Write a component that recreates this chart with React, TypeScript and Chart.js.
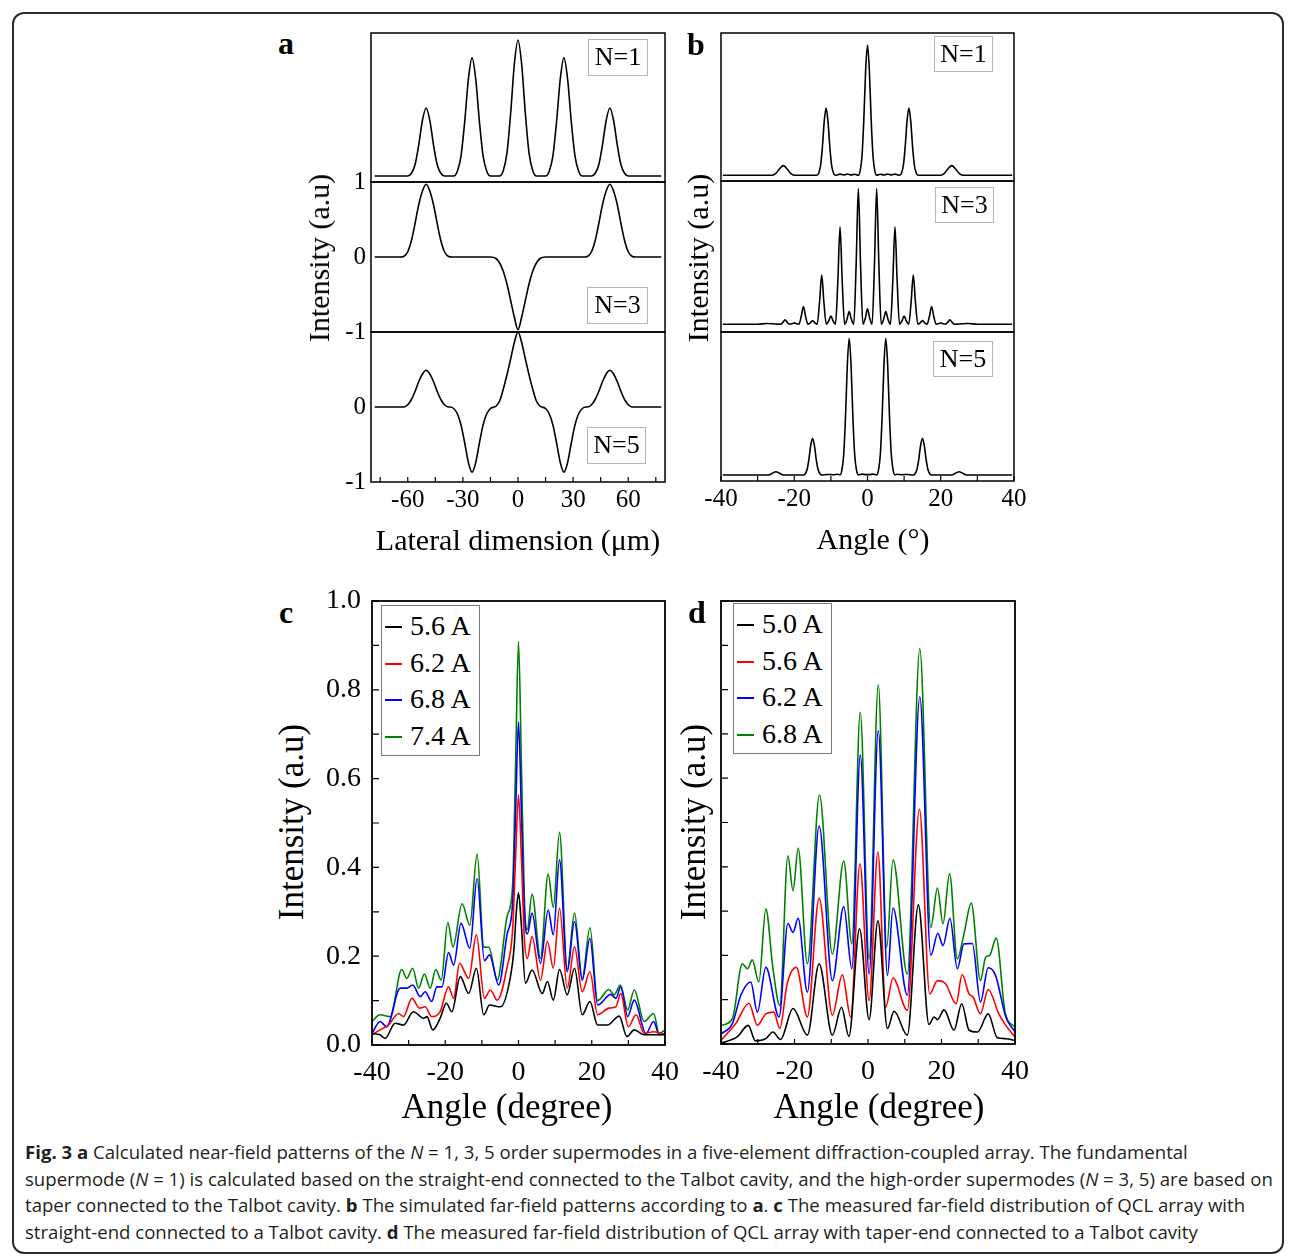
import React, { useEffect, useRef } from "react";
import { Chart, registerables } from "chart.js";

Chart.register(...registerables);

type Pt = [number, number];

// ---------------- Panel a : calculated near-field (lateral dimension, µm) ----------------
const aN1: Pt[] = [
  [-78, 0], [-60, 0], [-58, 0.02], [-56, 0.085], [-54, 0.23], [-52, 0.41], [-50, 0.5], [-48, 0.41], [-46, 0.23], [-44, 0.085], [-42, 0.02], [-40, 0],
  [-35, 0], [-33, 0.035], [-31, 0.148], [-29, 0.4], [-27, 0.712], [-25, 0.868], [-23, 0.712], [-21, 0.4], [-19, 0.148], [-17, 0.035], [-15, 0],
  [-10, 0], [-8, 0.04], [-6, 0.17], [-4, 0.46], [-2, 0.82], [0, 1], [2, 0.82], [4, 0.46], [6, 0.17], [8, 0.04], [10, 0],
  [15, 0], [17, 0.035], [19, 0.148], [21, 0.4], [23, 0.712], [25, 0.868], [27, 0.712], [29, 0.4], [31, 0.148], [33, 0.035], [35, 0],
  [40, 0], [42, 0.02], [44, 0.085], [46, 0.23], [48, 0.41], [50, 0.5], [52, 0.41], [54, 0.23], [56, 0.085], [58, 0.02], [60, 0], [78, 0],
];
const aN3: Pt[] = [
  [-78, 0], [-64, 0], [-62, 0.01], [-60, 0.07], [-58, 0.22], [-56, 0.45], [-54, 0.7], [-52, 0.88], [-50, 0.97], [-48, 0.88], [-46, 0.7], [-44, 0.45], [-42, 0.22], [-40, 0.07], [-38, 0.01], [-36, 0],
  [-15, 0], [-12, -0.02], [-10, -0.08], [-8, -0.19], [-6, -0.36], [-4, -0.58], [-2, -0.8], [0, -0.97], [2, -0.8], [4, -0.58], [6, -0.36], [8, -0.19], [10, -0.08], [12, -0.02], [15, 0],
  [36, 0], [38, 0.01], [40, 0.07], [42, 0.22], [44, 0.45], [46, 0.7], [48, 0.88], [50, 0.97], [52, 0.88], [54, 0.7], [56, 0.45], [58, 0.22], [60, 0.07], [62, 0.01], [64, 0], [78, 0],
];
const aN5: Pt[] = [
  [-78, 0], [-62, 0], [-60, 0.03], [-58, 0.1], [-56, 0.21], [-54, 0.34], [-52, 0.44], [-50, 0.49], [-48, 0.44], [-46, 0.34], [-44, 0.21], [-42, 0.1], [-40, 0.03], [-38, 0],
  [-37, 0], [-35, -0.02], [-33, -0.09], [-31, -0.24], [-29, -0.48], [-27, -0.74], [-25, -0.87], [-23, -0.74], [-21, -0.48], [-19, -0.24], [-17, -0.09], [-15, -0.02], [-13, 0],
  [-12, 0.01], [-10, 0.08], [-8, 0.24], [-6, 0.43], [-4, 0.64], [-2, 0.86], [0, 1.0], [2, 0.86], [4, 0.64], [6, 0.43], [8, 0.24], [10, 0.08], [12, 0.01],
  [13, 0], [15, -0.02], [17, -0.09], [19, -0.24], [21, -0.48], [23, -0.74], [25, -0.87], [27, -0.74], [29, -0.48], [31, -0.24], [33, -0.09], [35, -0.02], [37, 0],
  [38, 0], [40, 0.03], [42, 0.1], [44, 0.21], [46, 0.34], [48, 0.44], [50, 0.49], [52, 0.44], [54, 0.34], [56, 0.21], [58, 0.1], [60, 0.03], [62, 0], [78, 0],
];
const aXLabels = [-60, -30, 0, 30, 60];
const aYLabelsMid = [1, 0, -1];
const aYLabelsBot = [0, -1];

// ---------------- Panel b : simulated far-field (angle, °) ----------------
const bN1: Pt[] = [
  [-39.5, 0], [-26, 0], [-25, 0.015], [-24, 0.05], [-23, 0.074], [-22, 0.05], [-21, 0.015], [-20, 0],
  [-13.8, 0], [-13.3, 0.018], [-12.8, 0.077], [-12.3, 0.222], [-11.8, 0.418], [-11.3, 0.516], [-10.8, 0.418], [-10.3, 0.222], [-9.8, 0.077], [-9.3, 0.018], [-8.8, 0],
  [-7.5, 0.009], [-6.5, 0.003], [-5.5, 0.01], [-4.5, 0.002], [-3.5, 0.008], [-2.5, 0],
  [-2, 0.035], [-1.5, 0.15], [-1, 0.43], [-0.5, 0.81], [0, 1], [0.5, 0.81], [1, 0.43], [1.5, 0.15], [2, 0.035], [2.5, 0],
  [3.5, 0.008], [4.5, 0.002], [5.5, 0.01], [6.5, 0.003], [7.5, 0.009],
  [8.8, 0], [9.3, 0.018], [9.8, 0.077], [10.3, 0.222], [10.8, 0.418], [11.3, 0.516], [11.8, 0.418], [12.3, 0.222], [12.8, 0.077], [13.3, 0.018], [13.8, 0],
  [20, 0], [21, 0.015], [22, 0.05], [23, 0.074], [24, 0.05], [25, 0.015], [26, 0], [39.5, 0],
];
const bN3: Pt[] = [
  [-39.5, 0], [-30, 0], [-27.5, 0.006], [-25, 0.002], [-23.75, 0], [-23.1, 0.014], [-22.5, 0.032], [-21.9, 0.014], [-21.25, 0],
  [-20.6, 0.004], [-20, 0.01], [-19.4, 0.004], [-18.75, 0], [-18.1, 0.057], [-17.5, 0.13], [-16.9, 0.057], [-16.25, 0],
  [-15.6, 0.011], [-15, 0.027], [-14.4, 0.011], [-13.75, 0], [-13.1, 0.159], [-12.5, 0.362], [-11.9, 0.159], [-11.25, 0],
  [-10.6, 0.024], [-10, 0.061], [-9.4, 0.024], [-8.75, 0], [-8.1, 0.315], [-7.5, 0.717], [-6.9, 0.315], [-6.25, 0],
  [-5.6, 0.037], [-5, 0.093], [-4.4, 0.037], [-3.75, 0], [-3.1, 0.44], [-2.5, 1.0], [-1.9, 0.44], [-1.25, 0],
  [-0.6, 0.045], [0, 0.113], [0.6, 0.045], [1.25, 0],
  [1.9, 0.44], [2.5, 1.0], [3.1, 0.44], [3.75, 0], [4.4, 0.037], [5, 0.093], [5.6, 0.037],
  [6.25, 0], [6.9, 0.315], [7.5, 0.717], [8.1, 0.315], [8.75, 0], [9.4, 0.024], [10, 0.061], [10.6, 0.024],
  [11.25, 0], [11.9, 0.159], [12.5, 0.362], [13.1, 0.159], [13.75, 0], [14.4, 0.011], [15, 0.027], [15.6, 0.011],
  [16.25, 0], [16.9, 0.057], [17.5, 0.13], [18.1, 0.057], [18.75, 0], [19.4, 0.004], [20, 0.01], [20.6, 0.004],
  [21.25, 0], [21.9, 0.014], [22.5, 0.032], [23.1, 0.014], [23.75, 0], [25, 0.002], [27.5, 0.006], [30, 0], [39.5, 0],
];
const bN5: Pt[] = [
  [-39.5, 0], [-27, 0], [-26, 0.012], [-25, 0.024], [-24, 0.012], [-23, 0],
  [-17.5, 0], [-17, 0.009], [-16.5, 0.04], [-16, 0.115], [-15.5, 0.217], [-15, 0.268], [-14.5, 0.217], [-14, 0.115], [-13.5, 0.04], [-13, 0.009], [-12.5, 0],
  [-11, 0.004], [-9.5, 0.002], [-8, 0.005], [-7.5, 0],
  [-7, 0.035], [-6.5, 0.15], [-6, 0.43], [-5.5, 0.81], [-5, 1], [-4.5, 0.81], [-4, 0.43], [-3.5, 0.15], [-3, 0.035], [-2.5, 0],
  [-1.5, 0.006], [-0.5, 0.003], [0.5, 0.003], [1.5, 0.006],
  [2.5, 0], [3, 0.035], [3.5, 0.15], [4, 0.43], [4.5, 0.81], [5, 1], [5.5, 0.81], [6, 0.43], [6.5, 0.15], [7, 0.035], [7.5, 0],
  [8, 0.005], [9.5, 0.002], [11, 0.004],
  [12.5, 0], [13, 0.009], [13.5, 0.04], [14, 0.115], [14.5, 0.217], [15, 0.268], [15.5, 0.217], [16, 0.115], [16.5, 0.04], [17, 0.009], [17.5, 0],
  [23, 0], [24, 0.012], [25, 0.024], [26, 0.012], [27, 0], [39.5, 0],
];
const bXLabels = [-40, -20, 0, 20, 40];

// ---------------- Panel c : measured far-field, straight-end ----------------
const cLabels = ["5.6 A", "6.2 A", "6.8 A", "7.4 A"];
const c56: Pt[] = [
  [-40, 0.026], [-37.8, 0.023], [-36.4, 0.015], [-33.7, 0.049], [-31.4, 0.045], [-28.7, 0.075], [-25.9, 0.06], [-25, 0.064], [-23.4, 0.034],
  [-21.4, 0.06], [-19.7, 0.094], [-18.2, 0.075], [-15.9, 0.154], [-13.6, 0.116], [-11.5, 0.173], [-9.5, 0.068], [-7.9, 0.09], [-4.9, 0.086],
  [-2.2, 0.154], [-1.2, 0.22], [-0.6, 0.3], [0, 0.343], [0.7, 0.28], [1.9, 0.139], [3.7, 0.169], [6.5, 0.116], [7.9, 0.143], [9.5, 0.101],
  [11.2, 0.17], [13.3, 0.113], [15.3, 0.173], [17.4, 0.068], [19.5, 0.098], [21.6, 0.045], [24.3, 0.045], [27.5, 0.065], [29.6, 0.019],
  [31.6, 0.034], [34.3, 0.023], [40, 0.023],
];
const c62: Pt[] = [
  [-40, 0.023], [-37.8, 0.034], [-35.5, 0.045], [-32.8, 0.071], [-31.4, 0.064], [-29.1, 0.105], [-27, 0.083], [-25.5, 0.086], [-23.7, 0.064],
  [-21.4, 0.075], [-19.1, 0.131], [-17.7, 0.105], [-16.1, 0.184], [-13.6, 0.15], [-11.5, 0.248], [-9.3, 0.105], [-7.7, 0.124], [-5.8, 0.101],
  [-3.1, 0.176], [-1.6, 0.26], [-0.8, 0.42], [0, 0.563], [0.8, 0.42], [1.6, 0.24], [2.4, 0.195], [3.7, 0.244], [6, 0.146], [7.9, 0.233],
  [9.5, 0.173], [11.2, 0.308], [13.3, 0.128], [15.3, 0.221], [17.4, 0.12], [19.5, 0.165], [21.6, 0.068], [24.7, 0.083], [26.6, 0.086],
  [27.9, 0.116], [30, 0.041], [32.1, 0.068], [34.3, 0.026], [37, 0.03], [40, 0.023],
];
const c68: Pt[] = [
  [-40, 0.026], [-37.8, 0.053], [-36, 0.041], [-32.3, 0.128], [-30.5, 0.128], [-28.9, 0.135], [-26.8, 0.109], [-25.5, 0.12], [-23.7, 0.098],
  [-22.3, 0.131], [-20.9, 0.131], [-19.1, 0.208], [-17.7, 0.18], [-15.7, 0.274], [-13.3, 0.218], [-11.3, 0.375], [-9.3, 0.19], [-7.9, 0.203],
  [-5.4, 0.135], [-3.1, 0.25], [-1.6, 0.32], [-0.8, 0.52], [0, 0.728], [0.8, 0.52], [1.6, 0.3], [2.4, 0.25], [3.7, 0.297], [6, 0.184],
  [8.1, 0.304], [9.5, 0.248], [11.2, 0.417], [13.3, 0.165], [15.3, 0.278], [17.4, 0.146], [19.5, 0.24], [21.6, 0.09], [25.2, 0.114],
  [26.6, 0.105], [27.9, 0.131], [29.8, 0.064], [31.6, 0.101], [34.8, 0.026], [36.9, 0.053], [38.4, 0.023], [40, 0.026],
];
const c74: Pt[] = [
  [-40, 0.053], [-37.8, 0.068], [-35, 0.064], [-31.9, 0.17], [-30.5, 0.15], [-28.9, 0.173], [-27.3, 0.128], [-25.7, 0.16], [-24.1, 0.128],
  [-22.6, 0.17], [-21.1, 0.146], [-19.3, 0.276], [-17.9, 0.221], [-15.4, 0.318], [-13.3, 0.27], [-11.3, 0.43], [-9.5, 0.221], [-8.1, 0.22],
  [-5.8, 0.146], [-3.1, 0.29], [-1.6, 0.36], [-0.8, 0.63], [0, 0.908], [0.8, 0.63], [1.6, 0.33], [2.4, 0.26], [3.7, 0.34], [6, 0.195],
  [8.1, 0.385], [9.5, 0.31], [11.2, 0.479], [13.3, 0.17], [15.3, 0.297], [17.4, 0.15], [19.5, 0.264], [21.6, 0.1], [24.7, 0.125],
  [26.1, 0.113], [27.8, 0.135], [29.8, 0.079], [31.6, 0.124], [34.3, 0.053], [36.9, 0.071], [38.4, 0.026], [40, 0.034],
];

// ---------------- Panel d : measured far-field, taper-end ----------------
const dLabels = ["5.0 A", "5.6 A", "6.2 A", "6.8 A"];
const d50: Pt[] = [
  [-40, 0.002], [-35.6, 0.016], [-32.6, 0.042], [-30.6, 0.007], [-27.8, 0.012], [-25.9, 0.027], [-23.8, 0.01], [-20.4, 0.08], [-16.5, 0.02],
  [-13.3, 0.181], [-9.7, 0.02], [-7.2, 0.083], [-5.2, 0.017], [-2.3, 0.26], [0.3, 0.055], [2.7, 0.278], [5.3, 0.035], [7.1, 0.074],
  [10.7, 0.02], [13.7, 0.314], [16.6, 0.044], [18, 0.061], [18.9, 0.055], [20.7, 0.077], [23.4, 0.031], [25.5, 0.091], [27.5, 0.031],
  [29.8, 0.027], [32.7, 0.068], [35.2, 0.014], [37.5, 0.012], [40, 0.008],
];
const d56: Pt[] = [
  [-40, 0.008], [-36, 0.046], [-32.4, 0.092], [-30.1, 0.042], [-27.8, 0.068], [-25.6, 0.072], [-24, 0.035], [-22, 0.136], [-19.5, 0.173],
  [-16.5, 0.061], [-13.3, 0.329], [-9.7, 0.065], [-7, 0.156], [-4.7, 0.061], [-2.2, 0.407], [0.3, 0.098], [2.7, 0.434], [4.8, 0.083],
  [6.8, 0.149], [10.7, 0.076], [14, 0.53], [16.8, 0.113], [18.9, 0.143], [21.1, 0.136], [24, 0.091], [25.6, 0.157], [27.5, 0.113],
  [28.6, 0.106], [30.6, 0.068], [32.7, 0.123], [35.6, 0.068], [37.5, 0.042], [40, 0.016],
];
const d62: Pt[] = [
  [-40, 0.023], [-36.9, 0.046], [-34.6, 0.11], [-31.9, 0.14], [-30.1, 0.072], [-27.8, 0.173], [-24.2, 0.061], [-21.8, 0.272], [-20.4, 0.252],
  [-19, 0.284], [-16.5, 0.117], [-13.3, 0.492], [-9.7, 0.143], [-6.6, 0.31], [-4.4, 0.17], [-2.1, 0.653], [0.3, 0.158], [2.8, 0.707],
  [5.3, 0.155], [6.8, 0.307], [10.7, 0.11], [14.1, 0.784], [17.1, 0.2], [19, 0.25], [20.4, 0.222], [22.3, 0.284], [24.3, 0.17],
  [26.1, 0.226], [28.4, 0.227], [30.6, 0.095], [32.7, 0.172], [34.7, 0.155], [37.5, 0.061], [40, 0.027],
];
const d68: Pt[] = [
  [-40, 0.042], [-36.9, 0.057], [-34.2, 0.181], [-32.8, 0.17], [-31.5, 0.19], [-29.7, 0.14], [-27.8, 0.305], [-25.9, 0.173], [-24, 0.087],
  [-21.8, 0.425], [-20.4, 0.346], [-19, 0.442], [-16.5, 0.181], [-13.2, 0.562], [-9.7, 0.203], [-6.6, 0.413], [-4.4, 0.226], [-2.1, 0.749],
  [0.3, 0.192], [2.8, 0.811], [5.1, 0.218], [6.8, 0.416], [10.7, 0.158], [14.1, 0.892], [17.1, 0.263], [18.9, 0.352], [20.4, 0.271],
  [22.2, 0.385], [24.3, 0.192], [26.1, 0.248], [28.1, 0.318], [30.6, 0.143], [32, 0.196], [33.1, 0.2], [34.9, 0.239], [37.3, 0.072], [40, 0.038],
];
const cdXLabels = [-40, -20, 0, 20, 40];
const cYLabels = [0, 0.2, 0.4, 0.6, 0.8, 1.0];
const seriesColors = ["#000000", "#ff0000", "#0000ff", "#008000"];

// ---------------- drawing helpers ----------------
const SERIF = '"Liberation Serif", "Times New Roman", serif';
const SANS = '"Open Sans", "Noto Sans", sans-serif';

const framePlugin = {
  id: "frame",
  afterDatasetsDraw(chart: any, _args: any, opts: any) {
    const a = chart.chartArea;
    const ctx = chart.ctx;
    ctx.save();
    ctx.strokeStyle = "#000";
    ctx.lineWidth = 1.2;
    const xs = chart.scales.x;
    const ys = chart.scales.y;
    if (opts.tickX) {
      ctx.beginPath();
      for (const t of xs.ticks) {
        const p = xs.getPixelForValue(t.value);
        ctx.moveTo(p, a.bottom);
        ctx.lineTo(p, a.bottom - opts.tickX);
      }
      ctx.stroke();
    }
    if (opts.tickY) {
      ctx.beginPath();
      for (const t of ys.ticks) {
        const p = ys.getPixelForValue(t.value);
        ctx.moveTo(a.left, p);
        ctx.lineTo(a.left + opts.tickY, p);
      }
      ctx.stroke();
    }
    if (opts.width) {
      ctx.lineWidth = opts.width;
      ctx.strokeRect(a.left, a.top, a.right - a.left, a.bottom - a.top);
    }
    ctx.restore();
  },
};
Chart.register(framePlugin);

interface Series { pts: Pt[]; color: string; label: string; }
interface Spec {
  left: number; top: number; right: number; bottom: number;
  L: number; B: number;
  xMin: number; xMax: number; xStep: number; xLabels: number[] | null; xFont: number; xPad: number;
  yMin: number; yMax: number; yStep: number; yLabels: number[] | null; yFont: number; yPad: number; yFixed?: number;
  series: Series[]; lw: number; frameW: number; tickX: number; tickY: number;
}
const T = 22;
const R = 24;

function hasLabel(list: number[] | null, v: number) {
  return !!list && list.some((l) => Math.abs(l - v) < 1e-6);
}

function buildConfig(s: Spec): any {
  return {
    type: "line",
    data: {
      datasets: s.series.map((ser) => ({
        label: ser.label,
        data: ser.pts.map(([x, y]) => ({ x, y })),
        borderColor: ser.color,
        borderWidth: s.lw,
        pointRadius: 0,
        fill: false,
        cubicInterpolationMode: "monotone",
      })),
    },
    options: {
      animation: false,
      responsive: false,
      events: [],
      layout: { padding: { left: 0, top: T, right: R, bottom: 0 } },
      plugins: {
        legend: { display: false },
        tooltip: { enabled: false },
        frame: { width: s.frameW, tickX: s.tickX, tickY: s.tickY },
      },
      scales: {
        x: {
          type: "linear",
          min: s.xMin,
          max: s.xMax,
          ticks: {
            display: !!s.xLabels,
            stepSize: s.xStep,
            autoSkip: false,
            maxRotation: 0,
            includeBounds: false,
            padding: s.xPad,
            color: "#000",
            font: { family: SERIF, size: s.xFont },
            callback: (v: number) => (hasLabel(s.xLabels, v) ? String(Math.round(v)) : ""),
          },
          grid: { display: false, drawTicks: false },
          border: { display: false },
          afterFit: (sc: any) => {
            sc.height = s.B;
            sc.paddingLeft = 0;
            sc.paddingRight = 0;
          },
        },
        y: {
          type: "linear",
          min: s.yMin,
          max: s.yMax,
          ticks: {
            display: !!s.yLabels,
            stepSize: s.yStep,
            autoSkip: false,
            includeBounds: false,
            padding: s.yPad,
            color: "#000",
            font: { family: SERIF, size: s.yFont },
            callback: (v: number) =>
              hasLabel(s.yLabels, v) ? (s.yFixed !== undefined ? v.toFixed(s.yFixed) : String(Math.round(v))) : "",
          },
          grid: { display: false, drawTicks: false },
          border: { display: false },
          afterFit: (sc: any) => {
            sc.width = s.L;
            sc.paddingTop = 0;
            sc.paddingBottom = 0;
          },
        },
      },
    },
  };
}

function Plot({ spec }: { spec: Spec }) {
  const ref = useRef<HTMLCanvasElement>(null);
  const w = spec.right - spec.left + spec.L + R;
  const h = spec.bottom - spec.top + T + spec.B;
  useEffect(() => {
    if (!ref.current) return;
    const chart = new Chart(ref.current, buildConfig(spec));
    return () => chart.destroy();
  }, []);
  return (
    <canvas
      ref={ref}
      width={w}
      height={h}
      style={{ position: "absolute", left: spec.left - spec.L, top: spec.top - T, width: w, height: h }}
    />
  );
}

const black = (pts: Pt[], label: string): Series => ({ pts, color: "#000", label });

const aBase = { left: 371, right: 665, xMin: -80, xMax: 80, xStep: 15, xFont: 25, xPad: 3, yStep: 1, yFont: 25, yPad: 5, lw: 1.6, frameW: 1.5, tickY: 0 };
const bBase = { left: 721, right: 1014, xMin: -40, xMax: 40, xStep: 10, xFont: 25, xPad: 3, yStep: 1, yFont: 25, yPad: 5, lw: 1.6, frameW: 1.5, tickY: 0, yLabels: null, L: 30 };
const cdBase = { top: 601, xMin: -40, xMax: 40, xStep: 10, xLabels: cdXLabels, xFont: 28, xPad: 11, yMin: 0, yMax: 1.0, yStep: 0.1, yFont: 28, yPad: 11, yFixed: 1, lw: 1.6, frameW: 1.8, tickX: 5, tickY: 7, B: 50 };

const specs: Spec[] = [
  { ...aBase, top: 33, bottom: 182, L: 50, B: 20, xLabels: null, yMin: -0.044, yMax: 1.051, yLabels: null, series: [black(aN1, "N=1")], tickX: 0 },
  { ...aBase, top: 182, bottom: 332, L: 50, B: 20, xLabels: null, yMin: -1, yMax: 1, yLabels: aYLabelsMid, series: [black(aN3, "N=3")], tickX: 0 },
  { ...aBase, top: 332, bottom: 482, L: 50, B: 40, xLabels: aXLabels, yMin: -1, yMax: 1, yLabels: aYLabelsBot, series: [black(aN5, "N=5")], tickX: 5 },
  { ...bBase, top: 33, bottom: 181, B: 20, xLabels: null, yMin: -0.044, yMax: 1.092, series: [black(bN1, "N=1")], tickX: 0 },
  { ...bBase, top: 181, bottom: 332, B: 20, xLabels: null, yMin: -0.057, yMax: 1.055, series: [black(bN3, "N=3")], tickX: 0 },
  { ...bBase, top: 332, bottom: 481, B: 40, xLabels: bXLabels, yMin: -0.044, yMax: 1.046, series: [black(bN5, "N=5")], tickX: 5 },
  {
    ...cdBase, left: 372, right: 665, bottom: 1045, L: 60, yLabels: cYLabels,
    series: [c56, c62, c68, c74].map((pts, i) => ({ pts, color: seriesColors[i], label: cLabels[i] })),
  },
  {
    ...cdBase, left: 721, right: 1015, bottom: 1044, L: 30, yLabels: null,
    series: [d50, d56, d62, d68].map((pts, i) => ({ pts, color: seriesColors[i], label: dLabels[i] })),
  },
];

function Txt(props: { x: number; y: number; size: number; text: React.ReactNode; bold?: boolean; rot?: boolean; family?: string }) {
  return (
    <div
      style={{
        position: "absolute",
        left: props.x,
        top: props.y,
        transform: `translate(-50%, -50%)${props.rot ? " rotate(-90deg)" : ""}`,
        fontFamily: props.family || SERIF,
        fontSize: props.size,
        fontWeight: props.bold ? "bold" : "normal",
        lineHeight: 1,
        whiteSpace: "nowrap",
        color: "#000",
      }}
    >
      {props.text}
    </div>
  );
}

function TagBox(props: { x: number; y: number; w: number; h: number; text: string }) {
  return (
    <div
      style={{
        position: "absolute",
        left: props.x,
        top: props.y,
        width: props.w,
        height: props.h,
        boxSizing: "border-box",
        border: "1.5px solid #b5b5b5",
        fontFamily: SERIF,
        fontSize: 26,
        lineHeight: `${props.h - 3}px`,
        textAlign: "center",
        color: "#000",
      }}
    >
      {props.text}
    </div>
  );
}

function Legend(props: { x: number; y: number; labels: string[] }) {
  return (
    <div
      style={{
        position: "absolute",
        left: props.x,
        top: props.y,
        width: 99,
        height: 151,
        boxSizing: "border-box",
        border: "1.5px solid #7a7a7a",
        background: "#fff",
        fontFamily: SERIF,
        fontSize: 28,
      }}
    >
      {props.labels.map((lab, i) => (
        <div key={lab} style={{ position: "absolute", left: 0, top: 3 + i * 36.7, height: 34, width: 97, lineHeight: "34px", whiteSpace: "nowrap" }}>
          <span style={{ position: "absolute", left: 3, top: 17, width: 17, height: 0, borderTop: `2px solid ${seriesColors[i]}` }} />
          <span style={{ position: "absolute", left: 28, top: 0 }}>{lab}</span>
        </div>
      ))}
    </div>
  );
}

const captionLines: React.ReactNode[] = [
  <>
    <b>Fig. 3</b> <b>a</b> Calculated near-field patterns of the <i>N</i> = 1, 3, 5 order supermodes in a five-element diffraction-coupled array. The fundamental
  </>,
  <>
    supermode (<i>N</i> = 1) is calculated based on the straight-end connected to the Talbot cavity, and the high-order supermodes (<i>N</i> = 3, 5) are based on
  </>,
  <>
    taper connected to the Talbot cavity. <b>b</b> The simulated far-field patterns according to <b>a</b>. <b>c</b> The measured far-field distribution of QCL array with
  </>,
  <>
    straight-end connected to a Talbot cavity. <b>d</b> The measured far-field distribution of QCL array with taper-end connected to a Talbot cavity
  </>,
];

export default function App() {
  return (
    <div style={{ position: "absolute", left: 0, top: 0, width: 1295, height: 1256, background: "#fff", overflow: "hidden" }}>
      <div
        style={{
          position: "absolute", left: 12, top: 12, width: 1272, height: 1242,
          border: "2px solid #2a2a2a", borderRadius: 12, boxSizing: "border-box",
        }}
      />
      {specs.map((s, i) => (
        <Plot key={i} spec={s} />
      ))}

      {/* panel letters */}
      <Txt x={286} y={43} size={32} bold text="a" />
      <Txt x={696} y={44} size={32} bold text="b" />
      <Txt x={286} y={612} size={32} bold text="c" />
      <Txt x={697} y={612} size={32} bold text="d" />

      {/* axis titles */}
      <Txt x={319} y={258} size={30} rot text="Intensity (a.u)" />
      <Txt x={518} y={540} size={30} text="Lateral dimension (μm)" />
      <Txt x={698} y={258} size={30} rot text="Intensity (a.u)" />
      <Txt x={873} y={539} size={30} text="Angle (°)" />
      <Txt x={291} y={822} size={35} rot text="Intensity (a.u)" />
      <Txt x={507} y={1106} size={35} text="Angle (degree)" />
      <Txt x={693} y={822} size={35} rot text="Intensity (a.u)" />
      <Txt x={879} y={1106} size={35} text="Angle (degree)" />

      {/* supermode tags */}
      <TagBox x={588} y={39} w={60} h={37} text="N=1" />
      <TagBox x={587} y={287} w={61} h={37} text="N=3" />
      <TagBox x={587} y={427} w={59} h={37} text="N=5" />
      <TagBox x={934} y={36} w={59} h={36} text="N=1" />
      <TagBox x={935} y={187} w={59} h={36} text="N=3" />
      <TagBox x={933} y={341} w={60} h={36} text="N=5" />

      <Legend x={381} y={605} labels={cLabels} />
      <Legend x={733} y={603} labels={dLabels} />

      {/* caption */}
      <div style={{ position: "absolute", left: 25, top: 1139, fontFamily: SANS, fontSize: 18.6, color: "#231f20", lineHeight: "26.5px" }}>
        {captionLines.map((l, i) => (
          <div key={i} style={{ whiteSpace: "nowrap" }}>
            {l}
          </div>
        ))}
      </div>
    </div>
  );
}
